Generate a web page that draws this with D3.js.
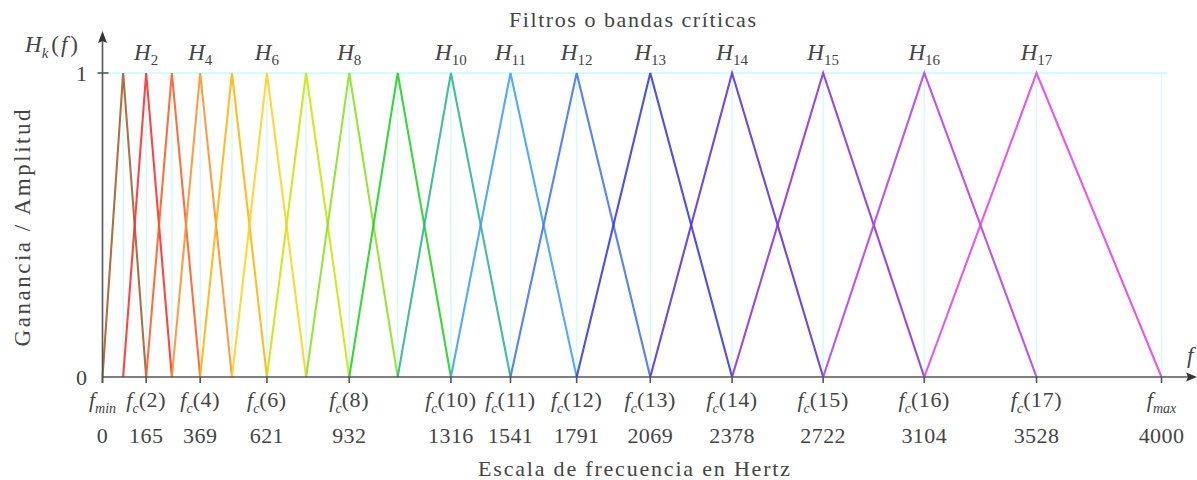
<!DOCTYPE html>
<html><head><meta charset="utf-8">
<script src="https://cdn.jsdelivr.net/npm/d3@7"></script>
<style>body{margin:0;background:#fff}text{font-family:"Liberation Serif",serif;fill:#444}</style>
</head><body><svg id="c" width="1197" height="480"></svg>
<script>
// center frequencies fc(1..17), plus fmin and fmax
const fmin = 0, fmax = 4000;
const centers = [78, 165, 262, 369, 489, 621, 769, 932, 1115, 1316, 1541, 1791, 2069, 2378, 2722, 3104, 3528];
const colors = ["#a65a2a","#ff2a2a","#ff5a22","#ff9028","#ffb400","#ffd21a","#c8e600","#8ce01e","#1ed21e","#2ab48c","#3c9cff","#4070ff","#3636ee","#5a2ee6","#8a2ee6","#b43cf0","#e641e6"];
const labeledFilters = [2,4,6,8,10,11,12,13,14,15,16,17];
const tickIdx = [0,2,4,6,8,10,11,12,13,14,15,16,17,18]; // 0 -> fmin, 18 -> fmax
const tickNums = ["0","165","369","621","932","1316","1541","1791","2069","2378","2722","3104","3528","4000"];

const svg = d3.select("#c");
const x = d3.scaleLinear().domain([fmin, fmax]).range([102.5, 1161.5]);
const y = d3.scaleLinear().domain([0, 1]).range([377, 73]);
const pts = [fmin, ...centers, fmax];

// grid
const grid = svg.append("g").attr("stroke","#d8fafa").attr("stroke-width",1.6);
pts.slice(1).forEach(f => grid.append("line").attr("x1",x(f)).attr("x2",x(f)).attr("y1",y(0)).attr("y2",y(1)));
grid.append("line").attr("x1",x(0)).attr("x2",x(fmax)+6).attr("y1",y(1)).attr("y2",y(1)).attr("stroke-width",2);

// filters
const line = d3.line().x(d=>x(d[0])).y(d=>y(d[1]));
centers.forEach((c,i)=>{
  const data = [[pts[i],0],[pts[i+1],1],[pts[i+2],0]];
  svg.append("path").attr("d",line(data)).attr("fill","none").attr("stroke",colors[i]).attr("stroke-width",2.1).attr("stroke-opacity",0.88);
});

// axes
const ax = svg.append("g").attr("stroke","#555").attr("stroke-width",1.6);
ax.append("line").attr("x1",x(0)).attr("x2",1190).attr("y1",y(0)).attr("y2",y(0));
ax.append("line").attr("x1",x(0)).attr("x2",x(0)).attr("y1",y(0)+6).attr("y2",40);
svg.append("path").attr("d","M1197,377 L1186,372.5 L1188,377 L1186,381.5Z").attr("fill","#333");
svg.append("path").attr("d","M102.5,31 L98,43 L102.5,41 L107,43Z").attr("fill","#333");
ax.append("line").attr("x1",x(0)-5).attr("x2",x(0)+6).attr("y1",y(1)).attr("y2",y(1));
tickIdx.forEach(k=>{ const f=pts[k]; ax.append("line").attr("x1",x(f)).attr("x2",x(f)).attr("y1",y(0)).attr("y2",y(0)+6); });

// y tick labels
svg.append("text").attr("x",87).attr("y",y(1)+8).attr("text-anchor","end").attr("font-size",22).text("1");
svg.append("text").attr("x",87).attr("y",y(0)+8).attr("text-anchor","end").attr("font-size",22).text("0");

// x tick labels
tickIdx.forEach((k,j)=>{
  const f = pts[k];
  const t = svg.append("text").attr("x",x(f)).attr("y",407).attr("text-anchor","middle").attr("font-size",22);
  t.append("tspan").attr("font-style","italic").text("f");
  if(k===0) t.append("tspan").attr("font-style","italic").attr("font-size",14).attr("dy",6).text("min");
  else if(k===18) t.append("tspan").attr("font-style","italic").attr("font-size",14).attr("dy",6).text("max");
  else { t.append("tspan").attr("font-style","italic").attr("font-size",14).attr("dy",6).text("c"); t.append("tspan").attr("dy",-6).attr("letter-spacing",0.6).text("("+k+")"); }
  svg.append("text").attr("x",x(f)).attr("y",443).attr("text-anchor","middle").attr("font-size",22).attr("letter-spacing",0.4).text(tickNums[j]);
});

// filter labels
labeledFilters.forEach(k=>{
  const t = svg.append("text").attr("x",x(centers[k-1])).attr("y",60).attr("text-anchor","middle").attr("font-size",23);
  t.append("tspan").attr("font-style","italic").text("H");
  t.append("tspan").attr("font-size",15).attr("dy",5).text(k);
});

// y-axis function label
const hl = svg.append("text").attr("x",25).attr("y",52).attr("font-size",23);
hl.append("tspan").attr("font-style","italic").text("H");
hl.append("tspan").attr("font-style","italic").attr("font-size",15).attr("dy",6).text("k");
hl.append("tspan").attr("dy",-6).attr("dx",3).text("(");
hl.append("tspan").attr("font-style","italic").attr("dx",2).text("f");
hl.append("tspan").attr("dx",3).text(")");
// x-axis var label
svg.append("text").attr("x",1187).attr("y",363).attr("font-size",23).attr("font-style","italic").text("f");

// titles
svg.append("text").attr("x",632.5).attr("y",27).attr("text-anchor","middle").attr("font-size",22)
  .attr("textLength",247).attr("lengthAdjust","spacing").text("Filtros o bandas críticas");
svg.append("text").attr("x",634).attr("y",476).attr("text-anchor","middle").attr("font-size",22)
  .attr("textLength",312).attr("lengthAdjust","spacing").text("Escala de frecuencia en Hertz");
svg.append("text").attr("transform","translate(30,228) rotate(-90)").attr("text-anchor","middle").attr("font-size",23)
  .attr("textLength",237).attr("lengthAdjust","spacing").text("Ganancia / Amplitud");
</script></body></html>
